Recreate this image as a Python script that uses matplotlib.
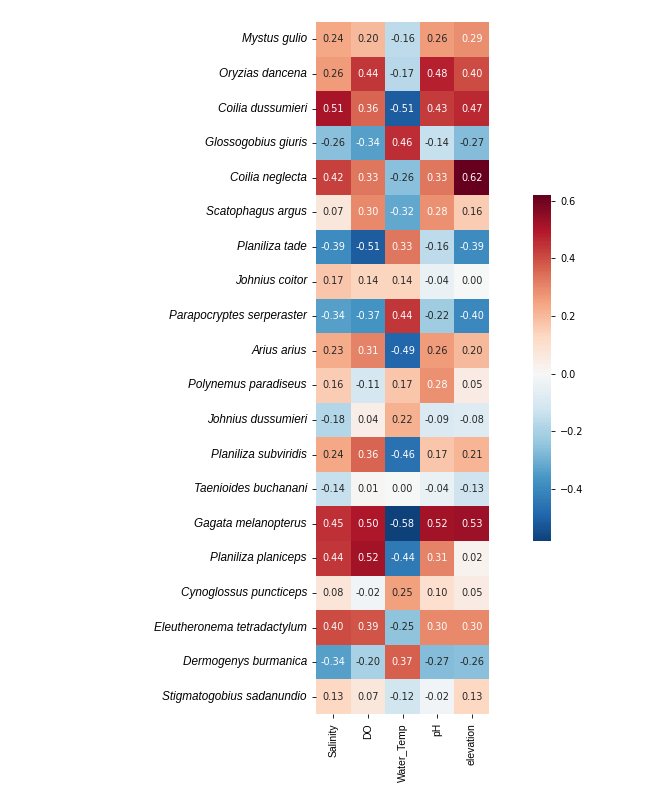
import numpy as np
import pandas as pd
import matplotlib
matplotlib.use("Agg")
import matplotlib.pyplot as plt
import seaborn as sns

species = [
    "Mystus gulio", "Oryzias dancena", "Coilia dussumieri", "Glossogobius giuris",
    "Coilia neglecta", "Scatophagus argus", "Planiliza tade", "Johnius coitor",
    "Parapocryptes serperaster", "Arius arius", "Polynemus paradiseus",
    "Johnius dussumieri", "Planiliza subviridis", "Taenioides buchanani",
    "Gagata melanopterus", "Planiliza planiceps", "Cynoglossus puncticeps",
    "Eleutheronema tetradactylum", "Dermogenys burmanica", "Stigmatogobius sadanundio",
]
variables = ["Salinity", "DO", "Water_Temp", "pH", "elevation"]

salinity = [0.24, 0.26, 0.51, -0.26, 0.42, 0.07, -0.39, 0.17, -0.34, 0.23,
            0.16, -0.18, 0.24, -0.14, 0.45, 0.44, 0.08, 0.40, -0.34, 0.13]
do = [0.20, 0.44, 0.36, -0.34, 0.33, 0.30, -0.51, 0.14, -0.37, 0.31,
      -0.11, 0.04, 0.36, 0.01, 0.50, 0.52, -0.02, 0.39, -0.20, 0.07]
water_temp = [-0.16, -0.17, -0.51, 0.46, -0.26, -0.32, 0.33, 0.14, 0.44, -0.49,
              0.17, 0.22, -0.46, 0.00, -0.58, -0.44, 0.25, -0.25, 0.37, -0.12]
ph = [0.26, 0.48, 0.43, -0.14, 0.33, 0.28, -0.16, -0.04, -0.22, 0.26,
      0.28, -0.09, 0.17, -0.04, 0.52, 0.31, 0.10, 0.30, -0.27, -0.02]
elevation = [0.29, 0.40, 0.47, -0.27, 0.62, 0.16, -0.39, 0.00, -0.40, 0.20,
             0.05, -0.08, 0.21, -0.13, 0.53, 0.02, 0.05, 0.30, -0.26, 0.13]

df = pd.DataFrame(
    np.column_stack([salinity, do, water_temp, ph, elevation]),
    index=species, columns=variables,
)

W, H = 662, 795
fig = plt.figure(figsize=(W / 100, H / 100), dpi=100)
ax = fig.add_axes([316 / W, 1 - 714 / H, 173 / W, 692 / H])
cax = fig.add_axes([533 / W, 1 - 541 / H, 18 / W, 346 / H])

sns.heatmap(df, ax=ax, cbar_ax=cax, cmap="RdBu_r", center=0,
            annot=True, fmt=".2f", annot_kws={"fontsize": 7})

ax.set_yticklabels(species, rotation=0, fontstyle="italic",
                   family=["Liberation Sans", "DejaVu Sans"], fontsize=8.5)
ax.set_xticklabels(variables, rotation=90, fontsize=7.5,
                   family=["Liberation Sans", "DejaVu Sans"])
ax.tick_params(axis="both", length=3, width=0.6)
cax.tick_params(labelsize=7, length=3, width=0.6)
cax.set_yticks([-0.4, -0.2, 0.0, 0.2, 0.4, 0.6])

fig.savefig("out.png", dpi=100)
